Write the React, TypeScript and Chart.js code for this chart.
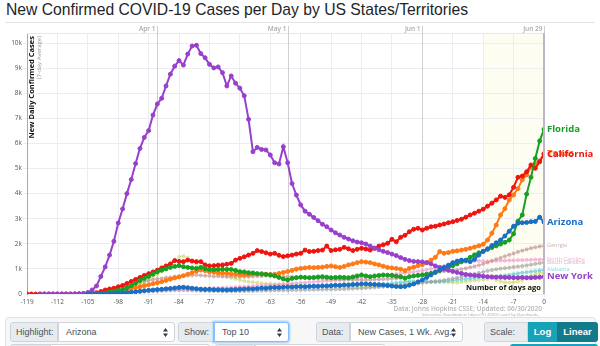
import React, { useEffect, useRef } from 'react';
import { Chart, registerables } from 'chart.js';

Chart.register(...registerables);

// ---- categories / ticks ----
const DAYS: number[] = Array.from({ length: 120 }, (_, i) => i - 119);
const X_TICKS = [-119, -112, -105, -98, -91, -84, -77, -70, -63, -56, -49, -42, -35, -28, -21, -14, -7, 0];
const Y_TICKS = [0, 1000, 2000, 3000, 4000, 5000, 6000, 7000, 8000, 9000, 10000];
const MONTH_LABELS = ['Apr 1', 'May 1', 'Jun 1', 'Jun 29'];
const MONTH_DAYS = [-89, -59, -28, 0];
const N = null;

// ---- series (7-day average of new daily cases), days -119 .. 0 ----
const NEW_YORK = [
  N, N, N, 0, 0, 0, 0, 0, 0, 0,
  0, 5, 10, 20, 60, 160, 320, 700, 1080, 1550,
  2100, 2830, 3390, 4000, 4560, 5200, 5800, 6240, 6510, 7130,
  7570, 7800, 8290, 8760, 9080, 9300, 9120, 9560, 9880, 9910,
  9580, 9410, 9150, 9010, 9050, 8820, 8290, 8690, 8400, 8200,
  7900, 6960, 5670, 5840, 5760, 5740, 5540, 5230, 5180, 5870,
  5230, 4400, 3940, 3550, 3300, 3180, 3050, 2920, 2780, 2680,
  2550, 2440, 2350, 2260, 2190, 2120, 2070, 2040, 1990, 1910,
  1830, 1760, 1700, 1650, 1590, 1530, 1450, 1380, 1330, 1300,
  1290, 1280, 1250, 1200, 1120, 1060, 990, 950, 900, 860,
  820, 780, 760, 740, 730, 710, 690, 680, 670, 670,
  660, 660, 650, 650, 660, 650, 650, 660, 670, 690,
];
const FLORIDA = [
  N, N, N, N, N, N, N, N, N, N,
  N, N, N, N, N, 0, 10, 20, 40, 70,
  110, 140, 180, 250, 330, 430, 540, 620, 700, 790,
  880, 950, 1000, 1060, 1100, 1130, 1090, 1060, 1040, 1020,
  1060, 1010, 980, 970, 980, 990, 980, 980, 940, 890,
  880, 850, 840, 810, 800, 780, 760, 720, 660, 600,
  560, 620, 650, 670, 660, 650, 660, 680, 690, 670,
  650, 660, 670, 660, 650, 680, 720, 760, 720, 690,
  720, 740, 760, 750, 740, 710, 690, 630, 690, 720,
  740, 760, 790, 820, 880, 940, 1010, 1070, 1130, 1200,
  1290, 1350, 1460, 1560, 1640, 1700, 1780, 1850, 1920, 1990,
  2060, 2150, 2400, 2900, 3150, 3980, 4650, 5400, 6100, 6560,
];
const CALIFORNIA = [
  0, 0, 0, 0, 0, 0, 0, 0, 0, 0,
  0, 0, 5, 10, 20, 30, 50, 100, 160, 200,
  230, 290, 340, 420, 500, 580, 660, 740, 810, 880,
  950, 1040, 1120, 1200, 1330, 1300, 1290, 1350, 1310, 1290,
  1290, 1160, 1120, 1130, 1150, 1160, 1190, 1220, 1350, 1420,
  1480, 1550, 1620, 1730, 1690, 1640, 1590, 1620, 1540, 1490,
  1520, 1550, 1590, 1620, 1750, 1690, 1700, 1730, 1750, 1910,
  1730, 1760, 1780, 1860, 1800, 1730, 1780, 1820, 1790, 1750,
  1820, 1910, 1960, 2020, 2180, 2080, 2260, 2340, 2480, 2580,
  2620, 2550, 2620, 2680, 2700, 2750, 2790, 2840, 2880, 2930,
  2980, 3060, 3150, 3220, 3300, 3380, 3500, 3620, 3750, 3900,
  3850, 3950, 4250, 4650, 4700, 4870, 5140, 5010, 5270, 5580,
];
const TEXAS = [
  N, N, N, N, N, N, N, N, N, N,
  N, N, N, N, N, N, 0, 10, 30, 50,
  80, 100, 140, 180, 220, 260, 290, 330, 370, 410,
  450, 490, 540, 590, 640, 680, 730, 790, 850, 910,
  960, 930, 890, 870, 840, 830, 820, 800, 790, 770,
  760, 770, 800, 800, 800, 790, 780, 790, 820, 860,
  900, 940, 990, 1020, 1040, 1060, 1050, 1060, 1070, 1100,
  1120, 1090, 1060, 1100, 1160, 1200, 1250, 1290, 1270, 1250,
  1200, 1160, 1110, 1060, 1040, 1020, 990, 930, 1020, 1070,
  1130, 1170, 1250, 1350, 1460, 1690, 1620, 1650, 1700, 1720,
  1750, 1780, 1820, 1870, 1920, 1980, 2150, 2420, 2750, 3150,
  3400, 3750, 3950, 4200, 4550, 4750, 5050, 5200, 5300, 5600,
];
const ARIZONA = [
  N, N, N, N, N, N, N, N, N, N,
  N, N, N, N, 0, 0, 0, 5, 10, 15,
  20, 30, 40, 55, 70, 90, 110, 130, 150, 160,
  175, 190, 205, 220, 240, 260, 270, 250, 230, 210,
  190, 182, 185, 172, 170, 168, 160, 172, 178, 190,
  195, 205, 200, 215, 235, 230, 250, 260, 255, 270,
  280, 275, 290, 295, 285, 300, 310, 305, 320, 315,
  330, 345, 340, 360, 355, 375, 380, 395, 400, 385,
  380, 370, 360, 340, 320, 300, 290, 300, 350, 400,
  480, 560, 660, 760, 860, 960, 1060, 1150, 1250, 1310,
  1350, 1330, 1290, 1380, 1550, 1700, 1800, 1930, 2040, 2150,
  2310, 2500, 2700, 2820, 2840, 2850, 2880, 2890, 3060, 2860,
];
const GEORGIA = [
  N, N, N, N, N, N, N, N, N, N,
  N, 0, 5, 10, 15, 30, 50, 80, 110, 150,
  190, 230, 280, 330, 370, 420, 460, 500, 540, 570,
  600, 620, 650, 660, 690, 700, 720, 735, 740, 760,
  745, 730, 725, 700, 710, 695, 690, 700, 685, 680,
  690, 685, 700, 715, 710, 735, 720, 705, 700, 690,
  695, 680, 670, 665, 650, 645, 625, 620, 615, 600,
  605, 590, 585, 570, 575, 560, 565, 550, 555, 560,
  575, 580, 595, 600, 615, 620, 640, 665, 690, 715,
  755, 780, 805, 845, 860, 880, 905, 915, 945, 960,
  995, 1020, 1065, 1100, 1145, 1200, 1255, 1320, 1385, 1440,
  1505, 1560, 1615, 1680, 1730, 1775, 1825, 1860, 1895, 1920,
];
const NORTH_CAROLINA = [
  N, N, N, N, N, N, N, N, N, N,
  N, N, 0, 5, 10, 15, 20, 30, 40, 50,
  60, 70, 85, 95, 105, 115, 125, 130, 140, 150,
  155, 160, 170, 175, 185, 190, 195, 200, 205, 210,
  215, 220, 225, 235, 240, 250, 255, 260, 270, 280,
  290, 300, 310, 325, 330, 345, 355, 365, 380, 395,
  410, 420, 430, 445, 455, 470, 480, 495, 505, 520,
  530, 545, 560, 575, 590, 605, 625, 640, 660, 680,
  700, 720, 745, 760, 780, 800, 825, 840, 860, 880,
  905, 935, 965, 1000, 1040, 1080, 1120, 1160, 1200, 1230,
  1250, 1280, 1300, 1310, 1320, 1310, 1300, 1310, 1320, 1330,
  1330, 1340, 1340, 1350, 1350, 1360, 1360, 1370, 1370, 1380,
];
const SOUTH_CAROLINA = [
  N, N, N, N, N, N, N, N, N, N,
  N, N, N, 0, 5, 10, 15, 20, 25, 30,
  35, 45, 55, 60, 70, 80, 85, 95, 100, 110,
  120, 125, 135, 140, 150, 150, 155, 145, 140, 135,
  130, 125, 122, 118, 115, 112, 110, 108, 110, 115,
  118, 120, 125, 128, 132, 135, 140, 142, 145, 150,
  152, 155, 158, 162, 165, 170, 172, 175, 178, 182,
  186, 190, 194, 198, 205, 212, 220, 230, 240, 250,
  262, 275, 285, 298, 310, 325, 345, 360, 380, 400,
  420, 445, 465, 485, 505, 525, 555, 585, 615, 645,
  680, 720, 760, 800, 840, 880, 920, 955, 985, 1010,
  1030, 1050, 1075, 1095, 1115, 1140, 1170, 1200, 1230, 1260,
];
const ALABAMA = [
  N, N, N, N, N, N, N, N, N, N,
  N, N, N, N, 0, 5, 8, 12, 18, 25,
  35, 50, 65, 80, 95, 110, 125, 138, 148, 160,
  170, 178, 188, 195, 200, 206, 210, 214, 210, 205,
  200, 196, 190, 188, 185, 182, 180, 185, 190, 195,
  202, 210, 215, 222, 230, 238, 248, 255, 262, 270,
  280, 290, 298, 302, 310, 320, 330, 338, 350, 360,
  368, 378, 382, 390, 398, 410, 418, 420, 412, 402,
  392, 390, 398, 410, 428, 448, 468, 488, 500, 508,
  512, 502, 492, 482, 478, 488, 500, 518, 538, 560,
  580, 598, 618, 640, 660, 672, 682, 692, 702, 720,
  740, 760, 790, 820, 848, 870, 890, 912, 938, 960,
];
const LOUISIANA = [
  N, N, N, N, N, N, N, N, N, N,
  N, N, N, N, N, N, 0, 10, 20, 30,
  50, 80, 120, 170, 230, 300, 380, 470, 560, 660,
  780, 900, 1050, 1200, 1350, 1480, 1510, 1450, 1330, 1200,
  1080, 980, 900, 840, 780, 730, 690, 640, 600, 560,
  520, 490, 470, 450, 430, 410, 400, 390, 380, 380,
  370, 360, 350, 340, 340, 330, 320, 320, 310, 300,
  300, 290, 290, 280, 280, 270, 270, 270, 280, 290,
  300, 320, 340, 350, 360, 370, 390, 420, 450, 460,
  470, 480, 490, 500, 500, 490, 480, 470, 460, 450,
  480, 500, 520, 540, 560, 580, 600, 620, 560, 500,
  470, 460, 470, 500, 560, 640, 720, 790, 830, 850,
];

type S = { name: string; color: string; labelColor: string; values: (number | null)[]; main: boolean; label: boolean };
const SERIES: S[] = [
  { name: 'Arizona', color: '#1a6ec4', labelColor: '#1a6ec4', values: ARIZONA, main: true, label: true },
  { name: 'New York', color: '#9840cc', labelColor: '#9840cc', values: NEW_YORK, main: true, label: true },
  { name: 'Florida', color: '#17a022', labelColor: '#17a022', values: FLORIDA, main: true, label: true },
  { name: 'California', color: '#ee1410', labelColor: '#ee1410', values: CALIFORNIA, main: true, label: true },
  { name: 'Texas', color: '#ff7a14', labelColor: '#ff7a14', values: TEXAS, main: true, label: true },
  { name: 'Georgia', color: 'rgba(195,150,150,0.55)', labelColor: 'rgba(190,140,140,0.7)', values: GEORGIA, main: false, label: true },
  { name: 'North Carolina', color: 'rgba(245,150,210,0.5)', labelColor: 'rgba(240,140,200,0.7)', values: NORTH_CAROLINA, main: false, label: true },
  { name: 'South Carolina', color: 'rgba(160,160,160,0.5)', labelColor: 'rgba(150,150,150,0.65)', values: SOUTH_CAROLINA, main: false, label: true },
  { name: 'Alabama', color: 'rgba(90,200,215,0.5)', labelColor: 'rgba(80,190,205,0.65)', values: ALABAMA, main: false, label: true },
  { name: 'Louisiana', color: 'rgba(205,215,100,0.45)', labelColor: 'rgba(200,210,90,0.6)', values: LOUISIANA, main: false, label: false },
];

const FONT = '"Open Sans", sans-serif';

const overlay = {
  id: 'overlay',
  beforeDraw(chart: any) {
    const { ctx, chartArea, scales } = chart;
    const { top, bottom } = chartArea;
    const x = scales.x;
    ctx.save();
    const x0 = x.getPixelForValue(-14);
    const x1 = x.getPixelForValue(0);
    ctx.fillStyle = '#fdfdf1';
    ctx.fillRect(x0, top, x1 - x0, bottom - top);
    ctx.restore();
  },
  beforeDatasetsDraw(chart: any) {
    const { ctx, chartArea, scales } = chart;
    const { top, bottom, left, right } = chartArea;
    const x = scales.x;
    ctx.save();
    ctx.strokeStyle = '#e6e6ee';
    ctx.lineWidth = 1;
    ctx.beginPath();
    ctx.moveTo(left, top + 0.5);
    ctx.lineTo(right, top + 0.5);
    ctx.stroke();
    MONTH_DAYS.forEach((d, i) => {
      const px = Math.round(x.getPixelForValue(d)) + 0.5;
      ctx.strokeStyle = '#cfcfcf';
      ctx.lineWidth = 1;
      ctx.beginPath();
      ctx.moveTo(px, top - 7);
      ctx.lineTo(px, bottom);
      ctx.stroke();
      ctx.fillStyle = '#aaaaaa';
      ctx.font = `600 6.5px ${FONT}`;
      ctx.textAlign = 'right';
      ctx.textBaseline = 'middle';
      ctx.fillText(MONTH_LABELS[i], px - 2, top - 4);
    });
    ctx.translate(31.5, top + 3);
    ctx.rotate(-Math.PI / 2);
    ctx.textAlign = 'right';
    ctx.textBaseline = 'middle';
    ctx.fillStyle = '#111';
    ctx.font = `bold 7.5px ${FONT}`;
    ctx.fillText('New Daily Confirmed Cases', 0, 0);
    ctx.fillStyle = '#999';
    ctx.font = `6px ${FONT}`;
    ctx.fillText('(7-day Average)', 0, 8);
    ctx.restore();
  },
  afterDatasetsDraw(chart: any) {
    const { ctx, chartArea, scales } = chart;
    const { top, bottom, right } = chartArea;
    const y = scales.y;
    ctx.save();
    ctx.strokeStyle = '#bdb6c9';
    ctx.lineWidth = 2;
    ctx.beginPath();
    ctx.moveTo(right, top);
    ctx.lineTo(right, bottom);
    ctx.stroke();
    const order = [...SERIES].reverse();
    order.forEach((s) => {
      if (!s.label) return;
      const v = s.values[s.values.length - 1] as number;
      const py = y.getPixelForValue(v);
      ctx.fillStyle = s.labelColor;
      ctx.textAlign = 'left';
      ctx.textBaseline = 'middle';
      ctx.font = s.main ? `bold 9.5px ${FONT}` : `5.5px ${FONT}`;
      ctx.fillText(s.name, right + 3, py);
    });
    ctx.fillStyle = '#111';
    ctx.font = `bold 7.5px ${FONT}`;
    ctx.textAlign = 'right';
    ctx.textBaseline = 'middle';
    ctx.fillText('Number of days ago', right - 3, bottom - 6);
    ctx.fillStyle = '#b5b5b5';
    ctx.font = `600 6.5px ${FONT}`;
    ctx.fillText('Data: Johns Hopkins CSSE; Updated: 06/30/2020', right - 2, bottom + 15);
    ctx.font = `4px ${FONT}`;
    ctx.fillStyle = '#aaa';
    ctx.fillText('Interactive Visualization: https://91-DIVOC.com/ by @profwade_', right - 4, bottom + 21);
    ctx.restore();
  },
};

function ChartView() {
  const ref = useRef<HTMLCanvasElement>(null);
  useEffect(() => {
    const datasets = SERIES.map((s) => ({
      label: s.name,
      data: DAYS.map((d, i) => ({ x: d, y: s.values[i] })),
      borderColor: s.color,
      backgroundColor: s.color,
      pointBackgroundColor: s.color,
      pointBorderColor: s.color,
      borderWidth: s.main ? 2 : 1,
      pointRadius: s.main ? 2 : 1.6,
      pointBorderWidth: 1,
      tension: 0,
      spanGaps: false,
    }));
    const chart = new Chart(ref.current as HTMLCanvasElement, {
      type: 'line',
      data: { datasets } as any,
      options: {
        responsive: false,
        animation: false,
        devicePixelRatio: 1,
        layout: { padding: { top: 11, right: 56, left: 0, bottom: 0 } },
        plugins: { legend: { display: false }, tooltip: { enabled: false } },
        scales: {
          x: {
            type: 'linear',
            min: -119,
            max: 0,
            afterBuildTicks: (s: any) => {
              s.ticks = X_TICKS.map((v) => ({ value: v }));
            },
            afterFit: (s: any) => {
              s.height = 24;
            },
            grid: { color: '#ececf3', tickLength: 3 },
            border: { display: false },
            ticks: {
              font: { family: FONT, size: 6.5 },
              color: '#555',
              padding: 1,
              maxRotation: 0,
              autoSkip: false,
              callback: (v: any) => String(v),
            },
          },
          y: {
            min: 0,
            max: 10400,
            afterBuildTicks: (s: any) => {
              s.ticks = Y_TICKS.map((v) => ({ value: v }));
            },
            afterFit: (s: any) => {
              s.width = 27;
            },
            grid: { color: '#ececf3', tickLength: 4 },
            border: { display: true, color: '#a9a9a9', width: 1 },
            ticks: {
              font: { family: FONT, size: 6.5 },
              color: '#555',
              padding: 1,
              callback: (v: any) => (v === 0 ? '0' : `${Number(v) / 1000}k`),
            },
          },
        },
      } as any,
      plugins: [overlay],
    });
    return () => chart.destroy();
  }, []);
  return <canvas ref={ref} width={600} height={296} style={{ position: 'absolute', left: 0, top: 22, width: 600, height: 296 }} />;
}

const ctlFont = '"Liberation Sans", Arial, sans-serif';

function LabelBox({ x, y, w, text }: { x: number; y: number; w: number; text?: string }) {
  return (
    <div style={{ position: 'absolute', left: x, top: y, width: w, height: 20, boxSizing: 'border-box', background: '#e9ecef', border: '1px solid #ced4da', borderRadius: '3px 0 0 3px', color: '#495057', fontSize: 9, lineHeight: '18px', paddingLeft: 5, fontFamily: ctlFont, whiteSpace: 'nowrap', overflow: 'hidden' }}>
      {text}
    </div>
  );
}

function SelectBox({ x, y, w, text, focus }: { x: number; y: number; w: number; text?: string; focus?: boolean }) {
  return (
    <div style={{ position: 'absolute', left: x, top: y, width: w, height: 20, boxSizing: 'border-box', background: '#fff', border: focus ? '1px solid #80bdff' : '1px solid #ced4da', boxShadow: focus ? '0 0 0 1.5px rgba(0,123,255,0.25)' : 'none', borderRadius: '0 3px 3px 0', color: '#495057', fontSize: 9, lineHeight: '18px', paddingLeft: 7, fontFamily: ctlFont, whiteSpace: 'nowrap', overflow: 'hidden' }}>
      {text}
      {text !== undefined && (
        <svg width="5" height="9" viewBox="0 0 5 9" style={{ position: 'absolute', right: 6, top: 5 }}>
          <path d="M2.5 0 L5 3.5 L0 3.5 Z M2.5 9 L5 5.5 L0 5.5 Z" fill="#343a40" />
        </svg>
      )}
    </div>
  );
}

function Button({ x, y, w, text, bg, radius }: { x: number; y: number; w: number; text?: string; bg: string; radius: string }) {
  return (
    <div style={{ position: 'absolute', left: x, top: y, width: w, height: 20, boxSizing: 'border-box', background: bg, borderRadius: radius, color: '#fff', fontSize: 9.5, fontWeight: 'bold', lineHeight: '20px', textAlign: 'center', fontFamily: ctlFont }}>
      {text}
    </div>
  );
}

export default function App() {
  const r1 = 322;
  const r2 = 344;
  return (
    <div style={{ position: 'fixed', left: 0, top: 0, width: 600, height: 346, overflow: 'hidden', background: '#fff' }}>
      <div style={{ position: 'absolute', left: 6, top: 0, height: 20, lineHeight: '20px', fontSize: 15.7, color: '#212529', fontFamily: ctlFont, whiteSpace: 'nowrap' }}>
        New Confirmed COVID-19 Cases per Day by US States/Territories
      </div>
      <div style={{ position: 'absolute', left: 5, top: 22, width: 590, height: 1, background: '#e4e4e4' }} />
      <ChartView />
      <div style={{ position: 'absolute', left: 5, top: 317, width: 591, height: 40, boxSizing: 'border-box', background: '#f7f7f7', border: '1px solid #e0e0e0', borderRadius: 4 }} />
      <LabelBox x={10} y={r1} w={48} text="Highlight:" />
      <SelectBox x={58} y={r1} w={117} text="Arizona" />
      <LabelBox x={178} y={r1} w={36} text="Show:" />
      <SelectBox x={214} y={r1} w={75} text="Top 10" focus />
      <LabelBox x={316} y={r1} w={34} text="Data:" />
      <SelectBox x={350} y={r1} w={113} text="New Cases, 1 Wk. Avg." />
      <LabelBox x={484} y={r1} w={44} text="Scale:" />
      <Button x={528} y={r1} w={29} text="Log" bg="#17a2b8" radius="0" />
      <Button x={557} y={r1} w={41} text="Linear" bg="#117a8b" radius="0 3px 3px 0" />
      <LabelBox x={10} y={r2} w={40} />
      <SelectBox x={50} y={r2} w={160} />
      <LabelBox x={215} y={r2} w={40} />
      <SelectBox x={255} y={r2} w={130} />
      <Button x={510} y={r2} w={88} bg="#17a2b8" radius="3px" />
    </div>
  );
}
